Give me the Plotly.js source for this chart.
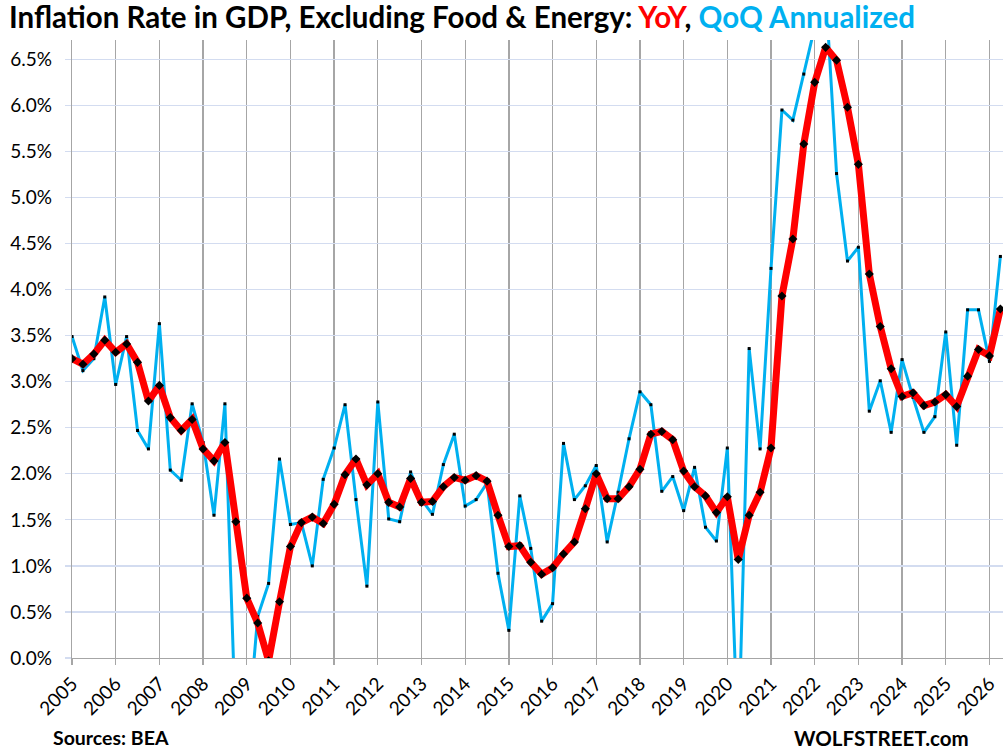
<!DOCTYPE html>
<html>
<head>
<meta charset="utf-8">
<script src="https://cdn.plot.ly/plotly-3.0.1.min.js"></script>
<style>
  html, body { margin: 0; padding: 0; background: #fff; }
  #chart { width: 1008px; height: 754px; }
</style>
</head>
<body>
<div id="chart"></div>
<script>
// Quarterly data, 2005 Q1 .. 2026 Q2
const firstYear = 2005;
const yearLabels = ["2005","2006","2007","2008","2009","2010","2011","2012","2013","2014","2015",
                    "2016","2017","2018","2019","2020","2021","2022","2023","2024","2025","2026"];

// YoY, %
const yoy = [
  3.25, 3.19, 3.30, 3.45,
  3.32, 3.41, 3.21, 2.79,
  2.96, 2.61, 2.47, 2.59,
  2.27, 2.14, 2.34, 1.48,
  0.65, 0.38, -0.03, 0.61,
  1.21, 1.47, 1.53, 1.46,
  1.67, 1.99, 2.16, 1.88,
  2.00, 1.69, 1.64, 1.95,
  1.69, 1.70, 1.86, 1.96,
  1.93, 1.98, 1.92, 1.55,
  1.21, 1.22, 1.04, 0.91,
  0.98, 1.13, 1.26, 1.62,
  2.00, 1.73, 1.73, 1.86,
  2.05, 2.43, 2.46, 2.37,
  2.03, 1.86, 1.76, 1.58,
  1.75, 1.07, 1.55, 1.80,
  2.28, 3.93, 4.55, 5.58,
  6.25, 6.63, 6.49, 5.98,
  5.36, 4.17, 3.60, 3.14,
  2.84, 2.88, 2.74, 2.78,
  2.86, 2.73, 3.06, 3.35,
  3.28, 3.79
];

// QoQ annualized, %
const qoq = [
  3.49, 3.12, 3.25, 3.92,
  2.97, 3.49, 2.47, 2.27,
  3.63, 2.04, 1.93, 2.76,
  2.34, 1.55, 2.76, -0.80,
  -0.95, 0.45, 0.81, 2.16,
  1.45, 1.47, 1.00, 1.94,
  2.28, 2.75, 1.72, 0.78,
  2.78, 1.51, 1.48, 2.02,
  1.72, 1.56, 2.10, 2.43,
  1.65, 1.72, 1.90, 0.92,
  0.30, 1.76, 1.19, 0.40,
  0.59, 2.33, 1.72, 1.87,
  2.09, 1.26, 1.80, 2.38,
  2.89, 2.75, 1.81, 1.97,
  1.60, 2.07, 1.42, 1.27,
  2.28, -1.00, 3.36, 2.27,
  4.23, 5.95, 5.84, 6.34,
  6.85, 7.25, 5.26, 4.31,
  4.46, 2.68, 3.01, 2.45,
  3.24, 2.83, 2.45, 2.62,
  3.54, 2.31, 3.78, 3.78,
  3.22, 4.36
];

const xq = yoy.map((_, i) => firstYear + i / 4);
const tickVals = yearLabels.map(s => Number(s));

const FONT = "Lato, 'Open Sans', sans-serif";
const BLUE = "#00b0f0";
const RED = "#ff0000";

const traces = [
  {
    x: xq, y: qoq, type: "scatter", mode: "lines+markers", name: "QoQ Annualized",
    line: { color: BLUE, width: 3 },
    marker: { color: "#000", size: 3, symbol: "square" },
    cliponaxis: true
  },
  {
    x: xq, y: yoy, type: "scatter", mode: "lines+markers", name: "YoY",
    line: { color: RED, width: 7 },
    marker: { color: "#000", size: 7, symbol: "diamond" },
    cliponaxis: true
  }
];

const layout = {
  width: 1008, height: 754,
  margin: { l: 72, r: 5, t: 40, b: 96 },
  paper_bgcolor: "#fff", plot_bgcolor: "#fff",
  showlegend: false,
  font: { family: FONT, color: "#000" },
  title: {
    text: "Inflation Rate in GDP, Excluding Food &amp; Energy: <span style='color:" + RED + "'>YoY</span>, <span style='color:" + BLUE + "'>QoQ Annualized</span>",
    font: { family: FONT, size: 29.5, weight: 700, color: "#000" },
    x: 0.009, xref: "container", xanchor: "left",
    y: 0.976, yref: "container", yanchor: "middle"
  },
  xaxis: {
    range: [2005, 2026.31],
    tickvals: tickVals, ticktext: yearLabels,
    tickangle: -45,
    tickfont: { family: FONT, size: 19, color: "#000" },
    showgrid: true, gridcolor: "#a6a6a6", gridwidth: 1.3,
    showline: true, linecolor: "#a6a6a6", linewidth: 1.3,
    ticks: "outside", ticklen: 6, tickcolor: "#a6a6a6", tickwidth: 1.3,
    zeroline: false, fixedrange: true
  },
  yaxis: {
    range: [0, 6.71],
    tick0: 0, dtick: 0.5,
    tickformat: ".1f", ticksuffix: "%",
    tickfont: { family: FONT, size: 19, color: "#000" },
    showgrid: true, gridcolor: "#d3dcf0", gridwidth: 1.3,
    showline: true, linecolor: "#a6a6a6", linewidth: 1.3,
    ticks: "outside", ticklen: 6, tickcolor: "#d3dcf0", tickwidth: 1.3,
    ticklabelstandoff: 9,
    zeroline: false, fixedrange: true
  },
  annotations: [
    {
      text: "<b>Sources: BEA</b>", xref: "paper", yref: "paper",
      x: 0.0414, y: -0.129, xanchor: "center", yanchor: "middle",
      showarrow: false, font: { family: FONT, size: 19.5, color: "#000" }
    },
    {
      text: "<b>WOLFSTREET.com</b>", xref: "paper", yref: "paper",
      x: 0.870, y: -0.129, xanchor: "center", yanchor: "middle",
      showarrow: false, font: { family: FONT, size: 20.5, color: "#000" }
    }
  ]
};

Plotly.newPlot("chart", traces, layout, { displayModeBar: false, staticPlot: true });
</script>
</body>
</html>
